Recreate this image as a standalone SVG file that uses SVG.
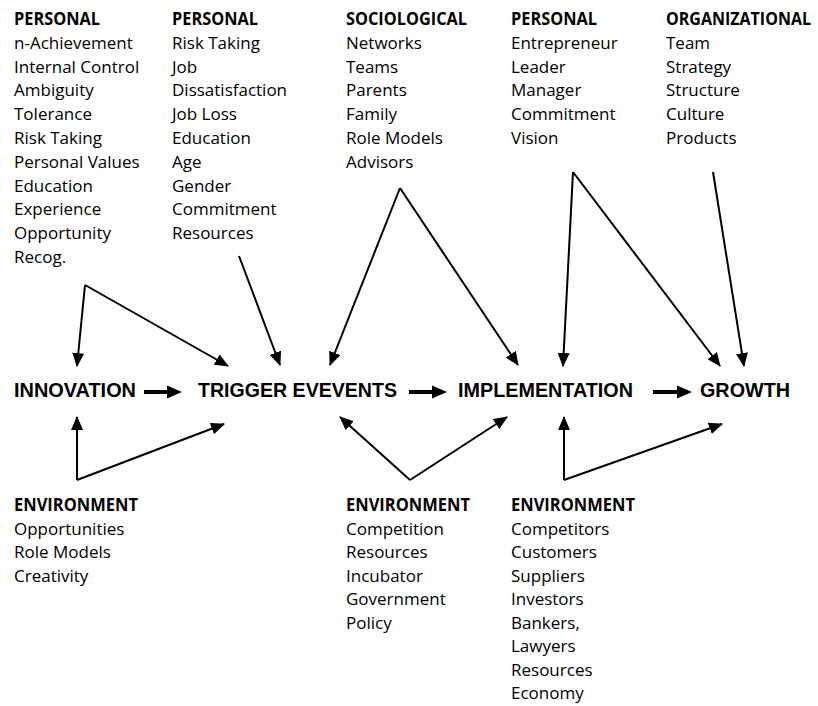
<svg xmlns="http://www.w3.org/2000/svg" width="818" height="706" viewBox="0 0 818 706">
  <defs>
    <marker id="head" markerUnits="userSpaceOnUse" markerWidth="14" markerHeight="12" refX="13" refY="6" orient="auto">
      <path d="M0,0 L14,6 L0,12 z" fill="#000"/>
    </marker>
    <style>
      .hd { font-family: "Open Sans", "Liberation Sans", sans-serif; font-size: 17px; font-weight: 700; fill: #000; }
      .it { font-family: "Open Sans", "Liberation Sans", sans-serif; font-size: 17px; fill: #000; }
      .stage { font-family: "Liberation Sans", Arial, sans-serif; font-size: 19.5px; font-weight: 700; fill: #000; }
      .link { stroke: #000; stroke-width: 2; fill: none; marker-end: url(#head); }
      .flow { fill: #000; }
    </style>
  </defs>

  <rect width="818" height="706" fill="#fff"/>

  <!-- factor lists above the process -->
  <g id="personal-innovation">
    <text class="hd" x="14" y="25" textLength="86" lengthAdjust="spacingAndGlyphs">PERSONAL</text>
    <text class="it" x="14" y="48.8">n-Achievement</text>
    <text class="it" x="14" y="72.6">Internal Control</text>
    <text class="it" x="14" y="96.4">Ambiguity</text>
    <text class="it" x="14" y="120.2">Tolerance</text>
    <text class="it" x="14" y="144">Risk Taking</text>
    <text class="it" x="14" y="167.8">Personal Values</text>
    <text class="it" x="14" y="191.6">Education</text>
    <text class="it" x="14" y="215.4">Experience</text>
    <text class="it" x="14" y="239.2">Opportunity</text>
    <text class="it" x="14" y="263">Recog.</text>
  </g>

  <g id="personal-trigger">
    <text class="hd" x="172" y="25" textLength="86" lengthAdjust="spacingAndGlyphs">PERSONAL</text>
    <text class="it" x="172" y="48.8">Risk Taking</text>
    <text class="it" x="172" y="72.6">Job</text>
    <text class="it" x="172" y="96.4">Dissatisfaction</text>
    <text class="it" x="172" y="120.2">Job Loss</text>
    <text class="it" x="172" y="144">Education</text>
    <text class="it" x="172" y="167.8">Age</text>
    <text class="it" x="172" y="191.6">Gender</text>
    <text class="it" x="172" y="215.4">Commitment</text>
    <text class="it" x="172" y="239.2">Resources</text>
  </g>

  <g id="sociological">
    <text class="hd" x="346" y="25" textLength="121" lengthAdjust="spacingAndGlyphs">SOCIOLOGICAL</text>
    <text class="it" x="346" y="48.8">Networks</text>
    <text class="it" x="346" y="72.6">Teams</text>
    <text class="it" x="346" y="96.4">Parents</text>
    <text class="it" x="346" y="120.2">Family</text>
    <text class="it" x="346" y="144">Role Models</text>
    <text class="it" x="346" y="167.8">Advisors</text>
  </g>

  <g id="personal-implementation">
    <text class="hd" x="511" y="25" textLength="86" lengthAdjust="spacingAndGlyphs">PERSONAL</text>
    <text class="it" x="511" y="48.8">Entrepreneur</text>
    <text class="it" x="511" y="72.6">Leader</text>
    <text class="it" x="511" y="96.4">Manager</text>
    <text class="it" x="511" y="120.2">Commitment</text>
    <text class="it" x="511" y="144">Vision</text>
  </g>

  <g id="organizational">
    <text class="hd" x="666" y="25" textLength="145" lengthAdjust="spacingAndGlyphs">ORGANIZATIONAL</text>
    <text class="it" x="666" y="48.8">Team</text>
    <text class="it" x="666" y="72.6">Strategy</text>
    <text class="it" x="666" y="96.4">Structure</text>
    <text class="it" x="666" y="120.2">Culture</text>
    <text class="it" x="666" y="144">Products</text>
  </g>

  <!-- process stages -->
  <g id="innovation">
    <text class="stage" x="14" y="397" textLength="122" lengthAdjust="spacingAndGlyphs">INNOVATION</text>
  </g>
  <g id="trigger-events">
    <text class="stage" x="198" y="397" textLength="199" lengthAdjust="spacingAndGlyphs">TRIGGER EVEVENTS</text>
  </g>
  <g id="implementation">
    <text class="stage" x="458" y="397" textLength="175" lengthAdjust="spacingAndGlyphs">IMPLEMENTATION</text>
  </g>
  <g id="growth">
    <text class="stage" x="700" y="397" textLength="90" lengthAdjust="spacingAndGlyphs">GROWTH</text>
  </g>

  <!-- environment lists below the process -->
  <g id="environment-innovation">
    <text class="hd" x="14" y="511" textLength="124" lengthAdjust="spacingAndGlyphs">ENVIRONMENT</text>
    <text class="it" x="14" y="534.5">Opportunities</text>
    <text class="it" x="14" y="558">Role Models</text>
    <text class="it" x="14" y="581.5">Creativity</text>
  </g>

  <g id="environment-trigger">
    <text class="hd" x="346" y="511" textLength="124" lengthAdjust="spacingAndGlyphs">ENVIRONMENT</text>
    <text class="it" x="346" y="534.5">Competition</text>
    <text class="it" x="346" y="558">Resources</text>
    <text class="it" x="346" y="581.5">Incubator</text>
    <text class="it" x="346" y="605">Government</text>
    <text class="it" x="346" y="628.5">Policy</text>
  </g>

  <g id="environment-implementation">
    <text class="hd" x="511" y="511" textLength="124" lengthAdjust="spacingAndGlyphs">ENVIRONMENT</text>
    <text class="it" x="511" y="534.5">Competitors</text>
    <text class="it" x="511" y="558">Customers</text>
    <text class="it" x="511" y="581.5">Suppliers</text>
    <text class="it" x="511" y="605">Investors</text>
    <text class="it" x="511" y="628.5">Bankers,</text>
    <text class="it" x="511" y="652">Lawyers</text>
    <text class="it" x="511" y="675.5">Resources</text>
    <text class="it" x="511" y="699">Economy</text>
  </g>

  <g id="connectors">
    <!-- thick flow arrows between stages -->
    <polygon class="flow" points="144,390 167,390 167,385.5 182,392 167,398.5 167,394 144,394"/>
    <polygon class="flow" points="409,390 432,390 432,385.5 447,392 432,398.5 432,394 409,394"/>
    <polygon class="flow" points="653,390 677,390 677,385.5 692,392 677,398.5 677,394 653,394"/>

    <!-- influences from above -->
    <line class="link" x1="85" y1="285" x2="77" y2="366"/>
    <line class="link" x1="85" y1="285" x2="228" y2="366"/>
    <line class="link" x1="239" y1="256" x2="280" y2="365"/>
    <line class="link" x1="400" y1="188" x2="330" y2="365"/>
    <line class="link" x1="400" y1="188" x2="518" y2="365"/>
    <line class="link" x1="573" y1="172" x2="563" y2="366"/>
    <line class="link" x1="573" y1="172" x2="720" y2="366"/>
    <line class="link" x1="713" y1="172" x2="744" y2="366"/>

    <!-- influences from below -->
    <line class="link" x1="77" y1="480" x2="77" y2="417"/>
    <line class="link" x1="77" y1="480" x2="224" y2="424"/>
    <line class="link" x1="410" y1="480" x2="340" y2="417"/>
    <line class="link" x1="410" y1="480" x2="507" y2="417"/>
    <line class="link" x1="564" y1="480" x2="564" y2="417"/>
    <line class="link" x1="564" y1="480" x2="722" y2="424"/>
  </g>
</svg>
